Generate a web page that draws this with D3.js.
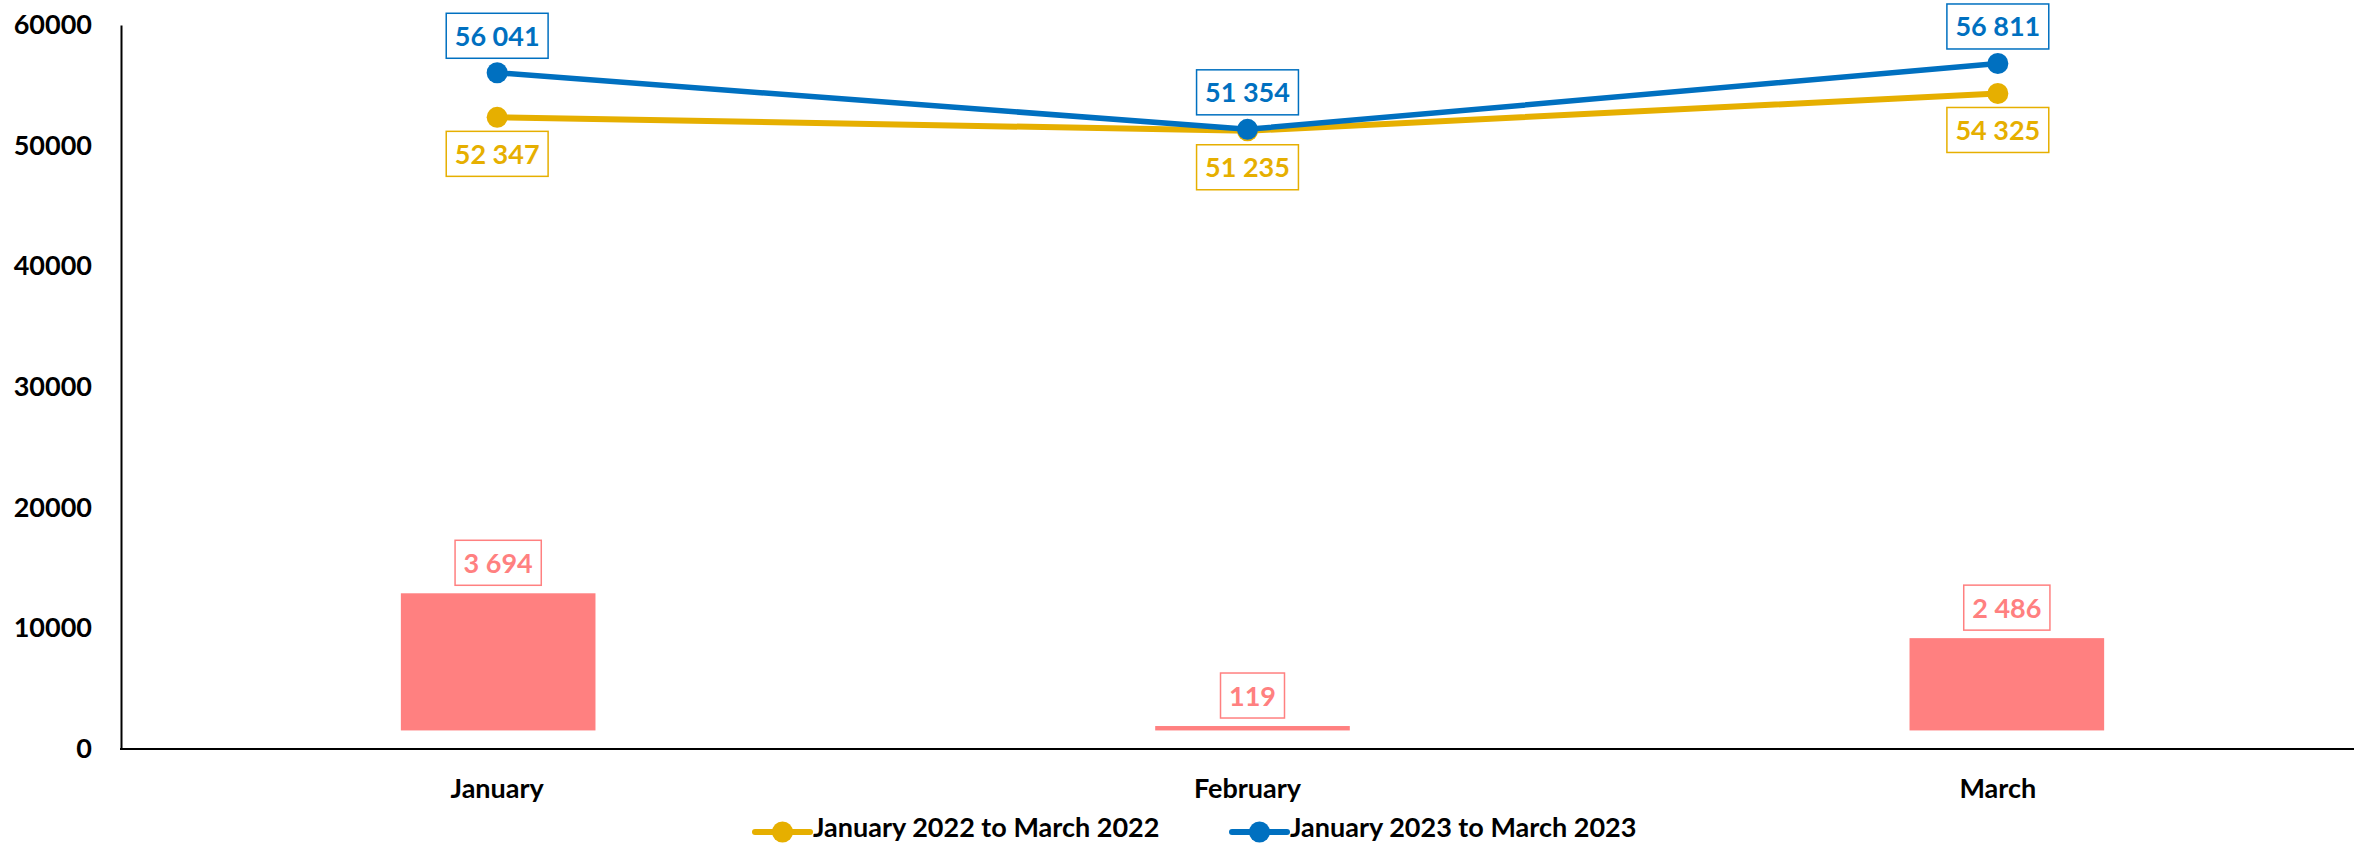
<!DOCTYPE html>
<html>
<head>
<meta charset="utf-8">
<script src="https://cdn.jsdelivr.net/npm/d3@7"></script>
<style>
  html, body { margin: 0; padding: 0; background: #ffffff; }
  svg { display: block; }
  text { font-family: "Lato", "Open Sans", sans-serif; font-weight: 700; }
</style>
</head>
<body>
<svg id="chart" width="2354" height="843"></svg>
<script>
// ---- data ----
const months = ["January", "February", "March"];
const series2022 = [52347, 51235, 54325];
const series2023 = [56041, 51354, 56811];
const differences = [3694, 119, 2486];
const yTicks = [0, 10000, 20000, 30000, 40000, 50000, 60000];
const seriesNames = ["January 2022 to March 2022", "January 2023 to March 2023"];

// ---- styles ----
const COL_2022 = "#E6AF00";
const COL_2023 = "#0070C0";
const COL_BAR = "#FF8080";
const FONT_SIZE = 27;

const svg = d3.select("#chart");

// ---- scales ----
const x = d3.scaleBand().domain(months).range([122, 2373]);
const xc = m => x(m) + x.bandwidth() / 2;
const xBar = d3.scaleBand().domain(months).range([121, 2384])
  .paddingInner(0.742).paddingOuter(0.371);
const y = d3.scaleLinear().domain([0, 60000]).range([749, 25]);
const y2 = d3.scaleLinear().domain([-500, 19000]).range([749, 25]);

const fmt = v => d3.format(",")(v).replace(/,/g, " ");

// ---- bars (secondary axis, hidden) ----
const barData = months.map((m, i) => ({ m, v: differences[i] }));
svg.append("g").selectAll("rect").data(barData).join("rect")
  .attr("x", d => xBar(d.m))
  .attr("width", xBar.bandwidth())
  .attr("y", d => y2(d.v))
  .attr("height", d => y2(0) - y2(d.v))
  .attr("fill", COL_BAR);

// ---- axes ----
const yAxis = svg.append("g")
  .attr("transform", "translate(121,0)")
  .call(d3.axisLeft(y).tickValues(yTicks).tickSize(0).tickPadding(29).tickFormat(d3.format("d")));
yAxis.select(".domain").attr("stroke", "#000").attr("stroke-width", 2);
yAxis.selectAll("text").attr("font-size", FONT_SIZE).attr("fill", "#000")
  .attr("font-family", "Lato, 'Open Sans', sans-serif").attr("font-weight", 700);

const xAxis = svg.append("g")
  .attr("transform", "translate(0,749)")
  .call(d3.axisBottom(x).tickSize(0).tickPadding(30));
xAxis.select(".domain").attr("stroke", "#000").attr("stroke-width", 2)
  .attr("d", "M120,0H2373");
xAxis.selectAll("text").attr("font-size", FONT_SIZE).attr("fill", "#000")
  .attr("font-family", "Lato, 'Open Sans', sans-serif").attr("font-weight", 700);

// ---- lines ----
const lineGen = d3.line().x(d => xc(d.m)).y(d => y(d.v));
const seriesList = [
  { name: seriesNames[0], values: series2022, color: COL_2022, width: 6, above: false },
  { name: seriesNames[1], values: series2023, color: COL_2023, width: 5.5, above: true }
];
seriesList.forEach(s => {
  const pts = months.map((m, i) => ({ m, v: s.values[i] }));
  const g = svg.append("g");
  g.append("path").datum(pts)
    .attr("d", lineGen)
    .attr("fill", "none")
    .attr("stroke", s.color)
    .attr("stroke-width", s.width)
    .attr("stroke-linejoin", "round");
  g.selectAll("circle").data(pts).join("circle")
    .attr("cx", d => xc(d.m))
    .attr("cy", d => y(d.v))
    .attr("r", 10.5)
    .attr("fill", s.color);
});

// ---- data labels ----
function boxedLabel(cx, top, text, color) {
  const g = svg.append("g");
  const rect = g.append("rect");
  const t = g.append("text")
    .attr("x", cx)
    .attr("y", top + 22.5 + 10)
    .attr("text-anchor", "middle")
    .attr("font-size", FONT_SIZE)
    .attr("fill", color)
    .text(text);
  const w = t.node().getComputedTextLength() + 17;
  rect.attr("x", cx - w / 2).attr("y", top).attr("width", w).attr("height", 45)
    .attr("fill", "#fff").attr("stroke", color).attr("stroke-width", 1.5);
}

seriesList.forEach(s => {
  months.forEach((m, i) => {
    const py = y(s.values[i]);
    const top = s.above ? py - 14.5 - 45 : py + 14;
    boxedLabel(xc(m), top, fmt(s.values[i]), s.color);
  });
});

barData.forEach(d => {
  const top = y2(d.v) - 8 - 45;
  boxedLabel(xBar(d.m) + xBar.bandwidth() / 2, top, fmt(d.v), COL_BAR);
});

// ---- legend ----
const legendX = [755, 1232];
seriesList.forEach((s, i) => {
  const g = svg.append("g").attr("transform", `translate(${legendX[i]},832)`);
  g.append("line").attr("x1", 0).attr("x2", 55).attr("y1", 0).attr("y2", 0)
    .attr("stroke", s.color).attr("stroke-width", 6).attr("stroke-linecap", "round");
  g.append("circle").attr("cx", 27.5).attr("cy", 0).attr("r", 10.5).attr("fill", s.color);
  g.append("text").attr("x", 58).attr("y", 5).attr("font-size", FONT_SIZE).attr("fill", "#000")
    .text(s.name);
});
</script>
</body>
</html>
